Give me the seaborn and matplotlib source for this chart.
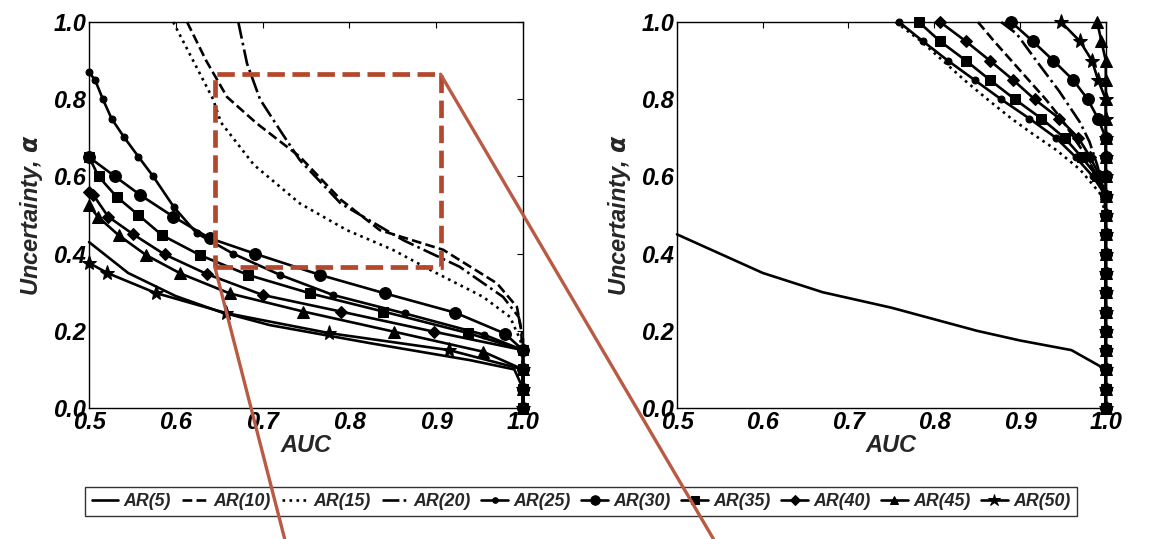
import numpy as np
import pandas as pd
import seaborn as sns
import matplotlib
matplotlib.use("Agg")
import matplotlib.pyplot as plt
from matplotlib.patches import Rectangle, ConnectionPatch

sns.set_theme(style="white")
plt.rcParams['font.family'] = ['Liberation Sans', 'DejaVu Sans']
plt.rcParams['font.weight'] = 'bold'
plt.rcParams['font.style'] = 'italic'
plt.rcParams['mathtext.fontset'] = 'dejavusans'

labels = ['AR(5)', 'AR(10)', 'AR(15)', 'AR(20)', 'AR(25)',
          'AR(30)', 'AR(35)', 'AR(40)', 'AR(45)', 'AR(50)']

# ---- left panel: AUC (x) vs uncertainty alpha (y)
left_auc_ar5 = [0.5, 0.545, 0.60, 0.65, 0.708, 0.824, 0.939, 0.99, 1.0, 1.0]
left_alpha_ar5 = [0.43, 0.35, 0.29, 0.25, 0.215, 0.168, 0.124, 0.1, 0.05, 0.0]
left_auc_ar10 = [0.613, 0.635, 0.659, 0.693, 0.743, 0.79, 0.835, 0.908, 0.97, 0.993, 0.998, 1.0, 1.0]
left_alpha_ar10 = [1.0, 0.9, 0.806, 0.738, 0.651, 0.54, 0.461, 0.41, 0.323, 0.262, 0.2, 0.1, 0.0]
left_auc_ar15 = [0.597, 0.62, 0.643, 0.652, 0.69, 0.743, 0.797, 0.85, 0.893, 0.954, 0.985, 0.997, 1.0, 1.0]
left_alpha_ar15 = [1.0, 0.9, 0.80, 0.74, 0.63, 0.53, 0.461, 0.41, 0.358, 0.288, 0.236, 0.176, 0.1, 0.0]
left_auc_ar20 = [0.672, 0.682, 0.697, 0.72, 0.743, 0.79, 0.862, 0.927, 0.977, 0.995, 1.0, 1.0]
left_alpha_ar20 = [1.0, 0.893, 0.80, 0.72, 0.642, 0.53, 0.435, 0.366, 0.288, 0.236, 0.185, 0.0]
left_auc_ar25 = [0.5, 0.507, 0.516, 0.526, 0.540, 0.557, 0.574, 0.598, 0.624, 0.666, 0.72, 0.781, 0.864, 0.955, 1.0, 1.0, 1.0, 1.0]
left_alpha_ar25 = [0.87, 0.85, 0.80, 0.75, 0.703, 0.651, 0.6, 0.52, 0.453, 0.40, 0.345, 0.293, 0.245, 0.19, 0.15, 0.1, 0.05, 0.0]
left_auc_ar30 = [0.5, 0.53, 0.559, 0.597, 0.639, 0.691, 0.766, 0.841, 0.922, 0.979, 1.0, 1.0, 1.0, 1.0]
left_alpha_ar30 = [0.65, 0.6, 0.552, 0.496, 0.44, 0.40, 0.345, 0.297, 0.247, 0.193, 0.15, 0.1, 0.05, 0.0]
left_auc_ar35 = [0.5, 0.511, 0.532, 0.557, 0.584, 0.628, 0.683, 0.755, 0.839, 0.937, 1.0, 1.0, 1.0, 1.0]
left_alpha_ar35 = [0.651, 0.6, 0.547, 0.5, 0.448, 0.396, 0.345, 0.297, 0.25, 0.194, 0.15, 0.1, 0.05, 0.0]
left_auc_ar40 = [0.5, 0.505, 0.522, 0.551, 0.587, 0.636, 0.70, 0.79, 0.897, 1.0, 1.0, 1.0, 1.0]
left_alpha_ar40 = [0.56, 0.552, 0.496, 0.45, 0.398, 0.347, 0.293, 0.25, 0.198, 0.15, 0.1, 0.05, 0.0]
left_auc_ar45 = [0.5, 0.51, 0.534, 0.566, 0.605, 0.662, 0.747, 0.851, 0.954, 1.0, 1.0, 1.0]
left_alpha_ar45 = [0.525, 0.496, 0.448, 0.396, 0.349, 0.297, 0.25, 0.198, 0.146, 0.1, 0.05, 0.0]
left_auc_ar50 = [0.5, 0.521, 0.577, 0.658, 0.777, 0.915, 1.0, 1.0, 1.0]
left_alpha_ar50 = [0.376, 0.35, 0.298, 0.246, 0.194, 0.15, 0.1, 0.05, 0.0]

# ---- right panel
alpha_grid = [1.0, 0.95, 0.9, 0.85, 0.8, 0.75, 0.7, 0.65, 0.6, 0.55,
              0.5, 0.45, 0.4, 0.35, 0.3, 0.25, 0.2, 0.15, 0.1, 0.05, 0.0]
right_auc_ar5 = [0.5, 0.6, 0.67, 0.75, 0.85, 0.9, 0.96, 1.0, 1.0]
right_alpha_ar5 = [0.45, 0.35, 0.3, 0.26, 0.2, 0.175, 0.15, 0.1, 0.0]
right_auc_ar10 = [0.851, 0.87, 0.89, 0.91, 0.93, 0.948, 0.963, 0.978, 0.99, 0.998, 1.0, 1.0]
right_alpha_ar10 = [1.0, 0.95, 0.9, 0.85, 0.8, 0.75, 0.7, 0.65, 0.6, 0.55, 0.5, 0.0]
right_auc_ar15 = [0.755, 0.785, 0.81, 0.835, 0.862, 0.89, 0.915, 0.942, 0.97, 0.993, 1.0, 1.0]
right_alpha_ar15 = [1.0, 0.95, 0.9, 0.85, 0.8, 0.75, 0.71, 0.669, 0.618, 0.557, 0.5, 0.0]
right_auc_ar20 = [0.878, 0.896, 0.919, 0.946, 0.97, 0.981, 0.99, 0.997, 1.0, 1.0]
right_alpha_ar20 = [1.0, 0.97, 0.9, 0.82, 0.74, 0.69, 0.63, 0.57, 0.52, 0.0]
right_auc_ar25 = [0.759, 0.787, 0.816, 0.847, 0.878, 0.911, 0.942, 0.965, 0.985, 1.0,
                  1.0, 1.0, 1.0, 1.0, 1.0, 1.0, 1.0, 1.0, 1.0, 1.0, 1.0]
right_auc_ar30 = [0.89, 0.915, 0.939, 0.962, 0.979, 0.991, 1.0, 1.0, 1.0, 1.0,
                  1.0, 1.0, 1.0, 1.0, 1.0, 1.0, 1.0, 1.0, 1.0, 1.0, 1.0]
right_auc_ar35 = [0.782, 0.807, 0.837, 0.865, 0.894, 0.925, 0.952, 0.972, 0.99, 1.0,
                  1.0, 1.0, 1.0, 1.0, 1.0, 1.0, 1.0, 1.0, 1.0, 1.0, 1.0]
right_auc_ar40 = [0.807, 0.837, 0.865, 0.892, 0.917, 0.946, 0.968, 0.982, 0.993, 1.0,
                  1.0, 1.0, 1.0, 1.0, 1.0, 1.0, 1.0, 1.0, 1.0, 1.0, 1.0]
right_auc_ar45 = [0.99, 0.995, 1.0, 1.0, 1.0, 1.0, 1.0, 1.0, 1.0, 1.0,
                  1.0, 1.0, 1.0, 1.0, 1.0, 1.0, 1.0, 1.0, 1.0, 1.0, 1.0]
right_auc_ar50 = [0.948, 0.97, 0.984, 0.991, 1.0, 1.0, 1.0, 1.0, 1.0, 1.0,
                  1.0, 1.0, 1.0, 1.0, 1.0, 1.0, 1.0, 1.0, 1.0, 1.0, 1.0]

# line styles per series (linestyle, marker, markersize)
styles = [('-', None, 0), ('--', None, 0), (':', None, 0), ('-.', None, 0),
          ('-', 'o', 5), ('-', 'o', 8.5), ('-', 's', 7), ('-', 'D', 6.5),
          ('-', '^', 8), ('-', '*', 11)]

left_series = [
    (left_auc_ar5, left_alpha_ar5), (left_auc_ar10, left_alpha_ar10),
    (left_auc_ar15, left_alpha_ar15), (left_auc_ar20, left_alpha_ar20),
    (left_auc_ar25, left_alpha_ar25), (left_auc_ar30, left_alpha_ar30),
    (left_auc_ar35, left_alpha_ar35), (left_auc_ar40, left_alpha_ar40),
    (left_auc_ar45, left_alpha_ar45), (left_auc_ar50, left_alpha_ar50),
]
right_series = [
    (right_auc_ar5, right_alpha_ar5), (right_auc_ar10, right_alpha_ar10),
    (right_auc_ar15, right_alpha_ar15), (right_auc_ar20, right_alpha_ar20),
    (right_auc_ar25, alpha_grid), (right_auc_ar30, alpha_grid),
    (right_auc_ar35, alpha_grid), (right_auc_ar40, alpha_grid),
    (right_auc_ar45, alpha_grid), (right_auc_ar50, alpha_grid),
]

fig = plt.figure(figsize=(11.62, 5.39), dpi=100)
ax1 = fig.add_axes([0.0766, 0.243, 0.3735, 0.716])
ax2 = fig.add_axes([0.5826, 0.243, 0.369, 0.716])


def draw_panel(ax, series):
    for (auc, alpha), lab, (ls, mk, ms) in zip(series, labels, styles):
        sns.lineplot(x=auc, y=alpha, ax=ax, sort=False, estimator=None,
                     color='black', linewidth=1.9, linestyle=ls, marker=mk,
                     markersize=ms, markeredgecolor='black',
                     markerfacecolor='black', clip_on=False, legend=False)
    ax.set_xlim(0.5, 1.0)
    ax.set_ylim(0.0, 1.0)
    ax.set_xticks([0.5, 0.6, 0.7, 0.8, 0.9, 1.0])
    ax.set_yticks([0.0, 0.2, 0.4, 0.6, 0.8, 1.0])
    ax.set_xticklabels(['0.5', '0.6', '0.7', '0.8', '0.9', '1.0'])
    ax.set_yticklabels(['0.0', '0.2', '0.4', '0.6', '0.8', '1.0'])
    ax.tick_params(direction='in', length=4, width=0.8, top=True, right=True,
                   labelsize=17, pad=2, colors='black')
    for lbl in ax.get_xticklabels() + ax.get_yticklabels():
        lbl.set_fontweight('bold')
        lbl.set_fontstyle('italic')
    for sp in ax.spines.values():
        sp.set_color('black')
        sp.set_linewidth(1.0)
    ax.set_xlabel('AUC', fontsize=17, fontweight='bold', fontstyle='italic', labelpad=0)
    ax.set_ylabel('Uncertainty, $\\alpha$', fontsize=17, fontweight='bold',
                  fontstyle='italic', labelpad=6)
    ax.set_facecolor('white')


draw_panel(ax1, left_series)
draw_panel(ax2, right_series)

# zoom box and connector lines
red = '#b4482c'
ax1.add_patch(Rectangle((0.645, 0.365), 0.26, 0.5, fill=False, linestyle='--',
                        linewidth=3.4, edgecolor=red, zorder=5))
for xy_a, xy_b in [((0.645, 0.365), (0.245, 0.0)), ((0.905, 0.865), (0.614, 0.0))]:
    con = ConnectionPatch(xyA=xy_a, coordsA=ax1.transData, xyB=xy_b,
                          coordsB=fig.transFigure, color='#b85a44', linewidth=2.4,
                          zorder=20)
    fig.add_artist(con)

handles = ax2.get_lines()[:10]
leg = fig.legend(handles, labels, loc='lower center', bbox_to_anchor=(0.5, 0.042),
                 ncol=10, frameon=True, fancybox=False, edgecolor='black',
                 handlelength=1.5, handletextpad=0.3, columnspacing=0.6,
                 borderpad=0.35, borderaxespad=0.0, markerscale=0.8,
                 prop={'size': 12.8, 'weight': 'bold', 'style': 'italic'})
leg.get_frame().set_linewidth(1.0)

fig.savefig('out.png', dpi=100, facecolor='white')
